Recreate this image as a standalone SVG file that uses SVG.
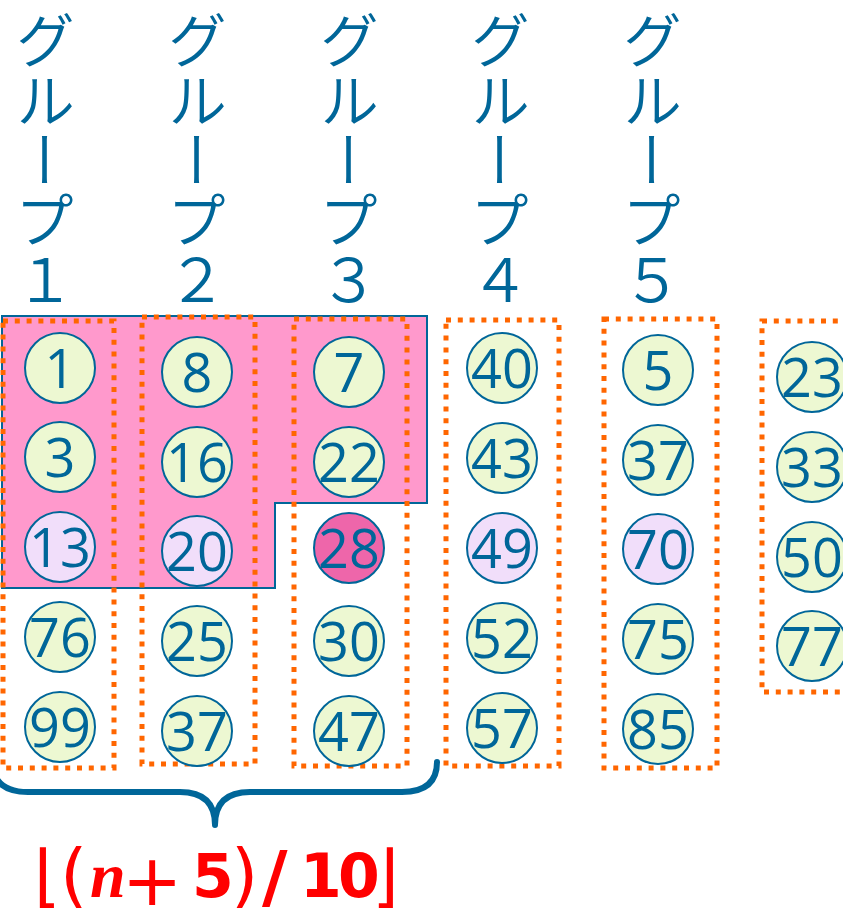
<svg xmlns="http://www.w3.org/2000/svg" width="843" height="912" viewBox="0 0 843 912">
<style>
.hdr{font-family:"Noto Sans CJK JP","Noto Sans",sans-serif;font-size:60px;font-weight:350;fill:#006699;writing-mode:vertical-rl;}
.grp{fill:none;stroke:#FF6600;stroke-width:5;stroke-dasharray:5 6.8;}
.c{stroke:#006699;stroke-width:2;}
.g{fill:#EDF8D2;}
.v{fill:#F1DEFA;}
.p{fill:#EE66AA;}
.n{font-family:"Open Sans","Liberation Sans",sans-serif;font-size:54px;fill:#006699;text-anchor:middle;}
.f{font-family:"DejaVu Sans","Liberation Sans",sans-serif;font-size:60px;font-weight:bold;fill:#FF0000;}
.br{font-size:68px;font-weight:normal;}
.pa{font-size:70px;font-weight:normal;}
.op{font-size:72px;font-weight:normal;}
.sl{font-size:70px;}
.it{font-family:"Liberation Serif",serif;font-style:italic;font-size:64px;}
</style>
<g id="headers">
<text class="hdr" x="45" y="10">グループ１</text>
<text class="hdr" x="197" y="10">グループ２</text>
<text class="hdr" x="349" y="10">グループ３</text>
<text class="hdr" x="500" y="10">グループ４</text>
<text class="hdr" x="652" y="10">グループ５</text>
</g>
<g id="highlight">
<polygon points="2,316 427,316 427,503 275,503 275,588 2,588" fill="#FF99CC" stroke="#006699" stroke-width="2"/>
</g>
<g id="groups">
<rect class="grp" x="3" y="321" width="111" height="447"/>
<rect class="grp" x="142" y="317" width="113" height="447"/>
<rect class="grp" x="294" y="319" width="113" height="447"/>
<rect class="grp" x="446" y="320" width="113" height="446"/>
<rect class="grp" x="604" y="319" width="113" height="449"/>
<rect class="grp" x="762" y="321" width="113" height="371"/>
</g>
<g id="col1">
<g id="n1"><circle class="c g" cx="60" cy="368" r="35"/><text class="n" x="60" y="388">1</text></g>
<g id="n3"><circle class="c g" cx="60" cy="457" r="35"/><text class="n" x="60" y="477">3</text></g>
<g id="n13"><circle class="c v" cx="60" cy="547" r="35"/><text class="n" x="60" y="567">13</text></g>
<g id="n76"><circle class="c g" cx="60" cy="637" r="35"/><text class="n" x="60" y="657">76</text></g>
<g id="n99"><circle class="c g" cx="60" cy="727" r="35"/><text class="n" x="60" y="747">99</text></g>
</g>
<g id="col2">
<g id="n8"><circle class="c g" cx="197" cy="372" r="35"/><text class="n" x="197" y="392">8</text></g>
<g id="n16"><circle class="c g" cx="197" cy="462" r="35"/><text class="n" x="197" y="482">16</text></g>
<g id="n20"><circle class="c v" cx="197" cy="551" r="35"/><text class="n" x="197" y="571">20</text></g>
<g id="n25"><circle class="c g" cx="197" cy="641" r="35"/><text class="n" x="197" y="661">25</text></g>
<g id="n37a"><circle class="c g" cx="197" cy="731" r="35"/><text class="n" x="197" y="751">37</text></g>
</g>
<g id="col3">
<g id="n7"><circle class="c g" cx="349" cy="372" r="35"/><text class="n" x="349" y="392">7</text></g>
<g id="n22"><circle class="c g" cx="349" cy="462" r="35"/><text class="n" x="349" y="482">22</text></g>
<g id="n28"><circle class="c p" cx="349" cy="548" r="35"/><text class="n" x="349" y="568">28</text></g>
<g id="n30"><circle class="c g" cx="349" cy="641" r="35"/><text class="n" x="349" y="661">30</text></g>
<g id="n47"><circle class="c g" cx="349" cy="731" r="35"/><text class="n" x="349" y="751">47</text></g>
</g>
<g id="col4">
<g id="n40"><circle class="c g" cx="502" cy="368" r="35"/><text class="n" x="502" y="388">40</text></g>
<g id="n43"><circle class="c g" cx="502" cy="458" r="35"/><text class="n" x="502" y="478">43</text></g>
<g id="n49"><circle class="c v" cx="502" cy="548" r="35"/><text class="n" x="502" y="568">49</text></g>
<g id="n52"><circle class="c g" cx="502" cy="638" r="35"/><text class="n" x="502" y="658">52</text></g>
<g id="n57"><circle class="c g" cx="502" cy="728" r="35"/><text class="n" x="502" y="748">57</text></g>
</g>
<g id="col5">
<g id="n5"><circle class="c g" cx="658" cy="370" r="35"/><text class="n" x="658" y="390">5</text></g>
<g id="n37b"><circle class="c g" cx="658" cy="460" r="35"/><text class="n" x="658" y="480">37</text></g>
<g id="n70"><circle class="c v" cx="658" cy="549" r="35"/><text class="n" x="658" y="569">70</text></g>
<g id="n75"><circle class="c g" cx="658" cy="639" r="35"/><text class="n" x="658" y="659">75</text></g>
<g id="n85"><circle class="c g" cx="658" cy="729" r="35"/><text class="n" x="658" y="749">85</text></g>
</g>
<g id="col6">
<g id="n23"><circle class="c g" cx="812" cy="377" r="35"/><text class="n" x="812" y="397">23</text></g>
<g id="n33"><circle class="c g" cx="812" cy="467" r="35"/><text class="n" x="812" y="487">33</text></g>
<g id="n50"><circle class="c g" cx="812" cy="557" r="35"/><text class="n" x="812" y="577">50</text></g>
<g id="n77"><circle class="c g" cx="812" cy="646" r="35"/><text class="n" x="812" y="666">77</text></g>
</g>
<g id="connectors">
<path d="M -8,760 Q -8,792 28,792 L 180,792 Q 215,792 215,825 Q 215,792 250,792 L 402,792 Q 437,792 437,762" fill="none" stroke="#006699" stroke-width="6" stroke-linecap="round" stroke-linejoin="round"/>
</g>
<g id="formula">
<text class="f" y="897"><tspan class="br" x="34" y="899">⌊</tspan><tspan class="pa" x="60" y="899">(</tspan><tspan class="it" x="90" y="897">n</tspan><tspan class="op" x="122" y="905">+</tspan><tspan x="192" y="897">5</tspan><tspan class="pa" x="231" y="899">)</tspan><tspan class="sl" x="262" y="901">/</tspan><tspan x="300" y="897">1</tspan><tspan x="338" y="897">0</tspan><tspan class="br" x="372" y="899">⌋</tspan></text>
</g>
</svg>
